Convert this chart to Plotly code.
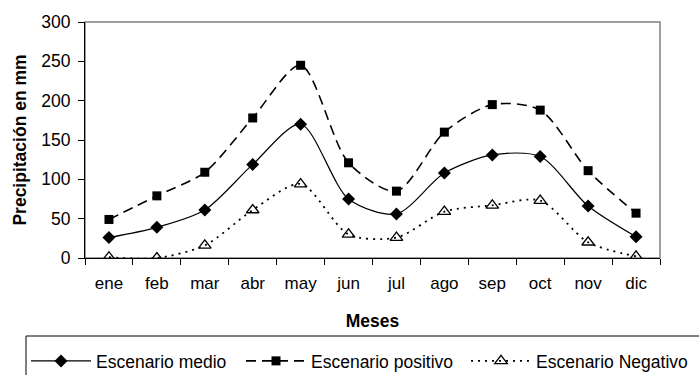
import plotly.graph_objects as go

meses = ["ene", "feb", "mar", "abr", "may", "jun", "jul", "ago", "sep", "oct", "nov", "dic"]
medio = [26, 39, 61, 119, 170, 75, 56, 108, 131, 129, 66, 27]
positivo = [49, 79, 109, 178, 245, 121, 85, 160, 195, 188, 111, 57]
negativo = [1, 0, 16, 61, 94, 30, 26, 59, 67, 73, 20, 2]

font_family = "Liberation Sans, Arial, sans-serif"
W, H = 699, 375
ML, MR, MT, MB = 85, 39, 22, 117
PW, PH = W - ML - MR, H - MT - MB

fig = go.Figure()
fig.add_trace(go.Scatter(
    x=meses, y=medio, name="Escenario medio", mode="lines+markers", legend="legend",
    line=dict(color="black", width=1.2, shape="spline", smoothing=0.8),
    marker=dict(symbol="diamond", size=10, color="black"),
))
fig.add_trace(go.Scatter(
    x=meses, y=positivo, name="Escenario positivo", mode="lines+markers", legend="legend2",
    line=dict(color="black", width=1.6, dash="10px,6px", shape="spline", smoothing=0.8),
    marker=dict(symbol="square", size=9, color="black"),
))
fig.add_trace(go.Scatter(
    x=meses, y=negativo, name="Escenario Negativo", mode="lines+markers", legend="legend3",
    line=dict(color="black", width=1.8, dash="2px,5px", shape="spline", smoothing=0.8),
    marker=dict(symbol="triangle-up-open", size=11, color="black", line=dict(width=1.3)),
))

# plot-area frame (grey, top/right)
fig.add_shape(type="rect", xref="paper", yref="paper", x0=0, y0=0, x1=1, y1=1,
              line=dict(color="#808080", width=1.5), layer="below")
# legend box (extends beyond the picture, as in the reference)
box_left, box_top = 26, 336
fig.add_shape(type="rect", xref="paper", yref="paper",
              x0=(box_left - ML) / PW, x1=(W + 20 - ML) / PW,
              y0=(MT + PH - box_top) / PH, y1=(MT + PH - (H + 20)) / PH,
              line=dict(color="black", width=1), fillcolor="rgba(0,0,0,0)")

leg_common = dict(orientation="h", xref="container", yref="container",
                  xanchor="left", yanchor="top", borderwidth=0,
                  bgcolor="rgba(0,0,0,0)", font=dict(size=17.5), itemwidth=60)
leg_top = 1 - 343 / H
text_starts = [97, 312, 537]
offset = 71

fig.update_layout(
    width=W, height=H,
    margin=dict(l=ML, r=MR, t=MT, b=MB),
    paper_bgcolor="white", plot_bgcolor="white",
    font=dict(family=font_family, size=17, color="black"),
    showlegend=True,
    legend=dict(**leg_common, x=(text_starts[0] - offset) / W, y=leg_top),
    legend2=dict(**leg_common, x=(text_starts[1] - offset) / W, y=leg_top),
    legend3=dict(**leg_common, x=(text_starts[2] - offset) / W, y=leg_top),
    xaxis=dict(
        type="category", showgrid=False, showline=True, linecolor="black", linewidth=1,
        ticks="outside", tickson="boundaries", ticklen=6, tickcolor="black",
        tickfont=dict(size=17), range=[-0.5, 11.5], automargin=False,
        ticklabelstandoff=10,
        title=dict(text="<b>Meses</b>", font=dict(size=17.5), standoff=22),
    ),
    yaxis=dict(
        range=[0, 300], dtick=50, showgrid=False, showline=True, linecolor="black",
        linewidth=1, ticks="outside", ticklen=6, tickcolor="black", zeroline=False,
        tickfont=dict(size=17.5), automargin=False, ticklabelstandoff=4,
        title=dict(text="<b>Precipitación en mm</b>", font=dict(size=17.5), standoff=10),
    ),
)

fig.write_html("out.html")
